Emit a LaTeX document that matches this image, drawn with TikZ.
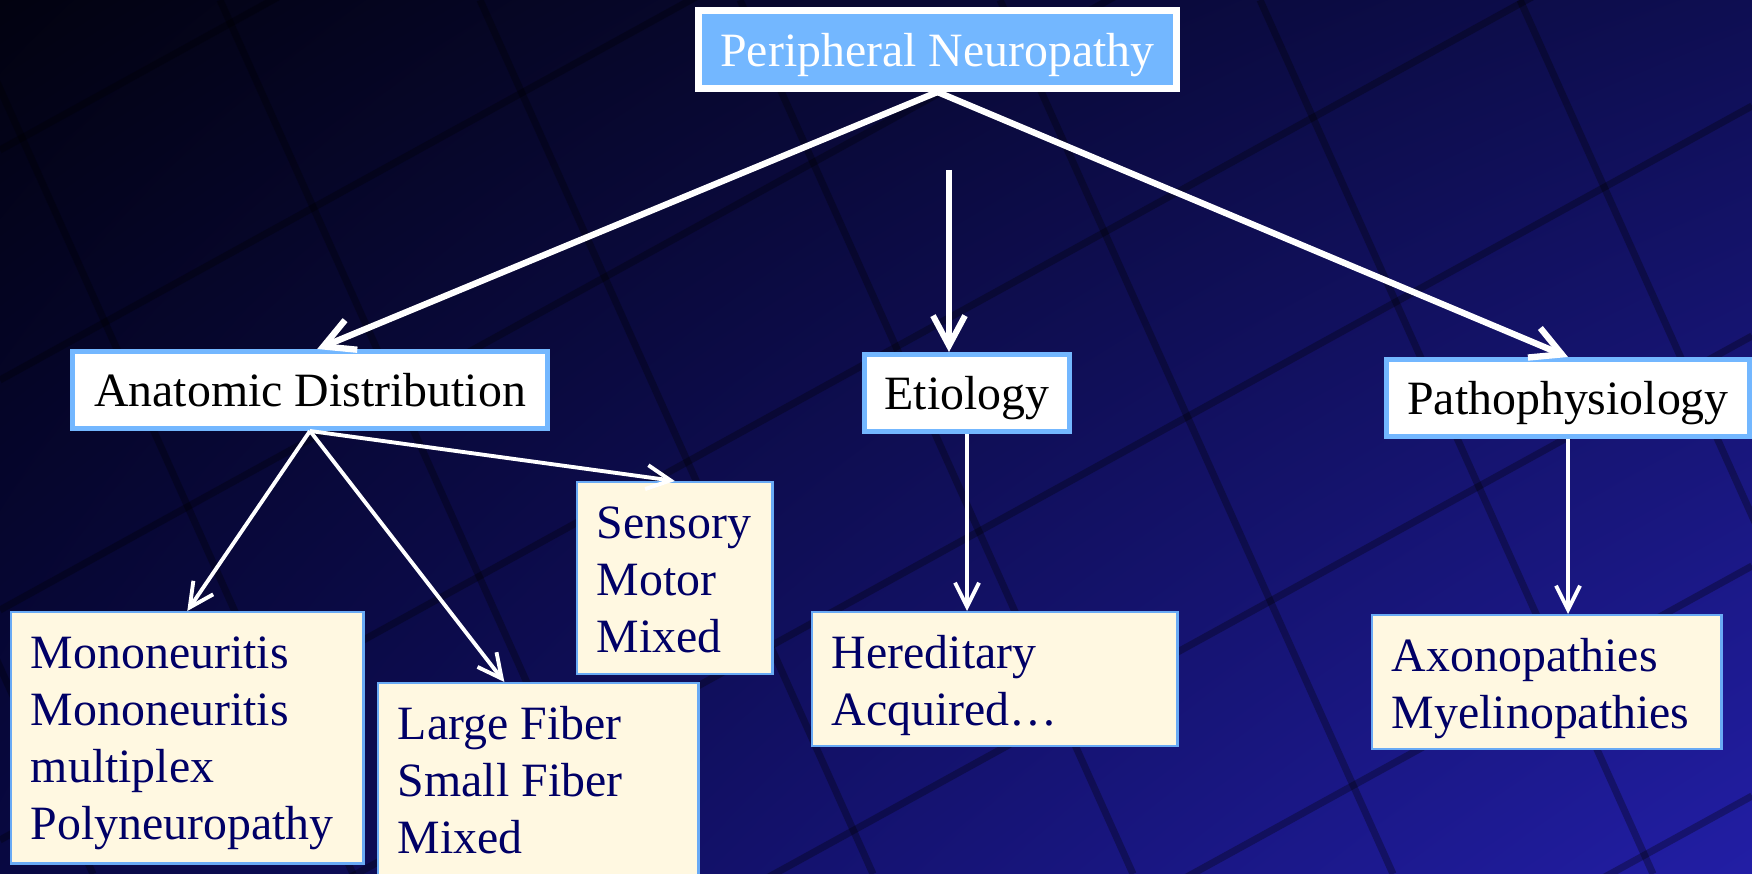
\documentclass[tikz,border=0pt]{standalone}
\usepackage{fontspec}
\setmainfont{Liberation Serif}
\usetikzlibrary{arrows.meta,shadings}
\usepackage{xcolor}
\definecolor{boxblue}{RGB}{115,183,255}
\definecolor{itemfill}{RGB}{255,248,225}
\definecolor{itemedge}{RGB}{105,170,245}
\definecolor{itemtext}{RGB}{0,0,102}
\definecolor{bgtl}{RGB}{2,2,16}
\definecolor{bgtr}{RGB}{14,14,82}
\definecolor{bgbl}{RGB}{8,8,66}
\definecolor{bgbr}{RGB}{34,30,165}

\begin{document}
\begin{tikzpicture}[
    x=0.01cm, y=-0.01cm,
    font=\fontsize{13.6}{16.2}\selectfont,
    joint/.style={line width=2pt, black, opacity=0.3},
    head/.style={draw=boxblue, line width=1.4pt, fill=white, text=black, inner sep=0pt, text height=9.5pt, text depth=0pt, minimum height=0.77cm},
    root/.style={head, draw=white, line width=2pt, fill=boxblue, text=white, minimum height=0.78cm},
    item/.style={draw=itemedge, line width=0.7pt, fill=itemfill, text=itemtext, anchor=north west, align=flush left, inner xsep=5.6pt, inner ysep=6.4pt, text height=9.5pt},
    link/.style={-{Straight Barb[length=3mm,width=3.2mm]}, white, line width=1.8pt},
    sublink/.style={-{Straight Barb[length=2.4mm,width=2.4mm]}, white, line width=1.1pt}
  ]
    % background
    \useasboundingbox (0,0) rectangle (1752,874);
    \shade[upper left=bgtl, upper right=bgtr, lower left=bgbl, lower right=bgbr] (0,0) rectangle (1752,874);
    \begin{scope}
      \clip (0,0) rectangle (1752,874);
      \foreach \off in {150,380,...,1760}
        \draw[joint] (0,\off) -- (1752,\off-964);
      \foreach \off in {-300,-40,...,1700}
        \draw[joint] (\off,0) -- (\off+393,874);
    \end{scope}

    \node[root, minimum width=4.78cm] (pn) at (937.5,49.5) {Peripheral Neuropathy};
    \node[head, minimum width=4.75cm] (anat) at (310,390) {Anatomic Distribution};
    \node[head, minimum width=2.05cm] (etio) at (967,393) {Etiology};
    \node[head, minimum width=3.63cm] (patho) at (1568,398) {Pathophysiology};
    \coordinate (etiotop) at (949,170);

    \node[item, text width=88.95pt, text depth=49.1pt] (mono) at (10,611) {Mononeuritis\\Mononeuritis\\multiplex\\Polyneuropathy};
    \node[item, text width=79.85pt, text depth=49.1pt] (fiber) at (377,682) {Large Fiber\\Small Fiber\\Mixed};
    \node[item, text width=44.3pt, text depth=32.3pt] (modal) at (576,481) {Sensory\\Motor\\Mixed};
    \node[item, text width=92.65pt, text depth=15.8pt] (cause) at (811,611) {Hereditary\\Acquired…};
    \node[item, text width=88.1pt, text depth=15.8pt] (lesion) at (1371,614) {Axonopathies\\Myelinopathies};

    \draw[link] (pn.south) -- (anat.80);
    \draw[link] (pn.south) -- (patho.north);
    \draw[link, line width=1.7pt] (etiotop) -- (etiotop |- etio.north);
    \draw[sublink] (anat.south) -- (mono.north);
    \draw[sublink] (anat.south) -- (fiber.105);
    \draw[sublink] (anat.south) -- (modal.north);
    \draw[sublink] (etio.south) -- (etio.south |- cause.north);
    \draw[sublink] (patho.south) -- (patho.south |- lesion.north);
  \end{tikzpicture}
\end{document}
